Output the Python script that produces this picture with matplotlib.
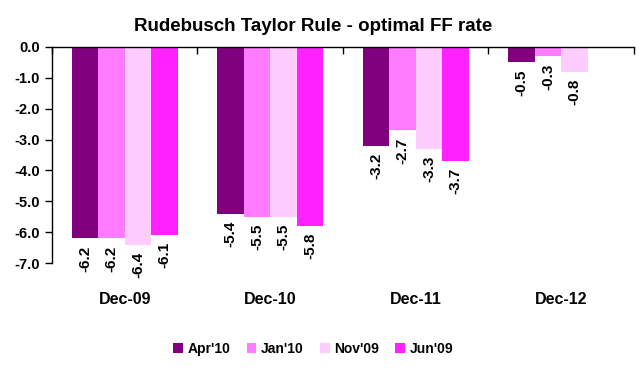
import numpy as np
import matplotlib
matplotlib.use("Agg")
import matplotlib.pyplot as plt
from matplotlib.ticker import FixedLocator

plt.rcParams['font.family'] = ['Liberation Sans', 'DejaVu Sans']
plt.rcParams['font.weight'] = 'bold'

# data
categories = ["Dec-09", "Dec-10", "Dec-11", "Dec-12"]
series_names = ["Apr'10", "Jan'10", "Nov'09", "Jun'09"]
apr10 = [-6.2, -5.4, -3.2, -0.5]
jan10 = [-6.2, -5.5, -2.7, -0.3]
nov09 = [-6.4, -5.5, -3.3, -0.8]
jun09 = [-6.1, -5.8, -3.7, np.nan]
colors = ["#800080", "#FF7BFF", "#FFCCFF", "#FF22FF"]

fig = plt.figure(figsize=(6.39, 3.70), dpi=100)
ax = fig.add_axes([0.0814, 0.289, 0.9106, 0.584])

n = len(series_names)
bar_w = 0.182
centers = np.arange(len(categories)) + 0.5
for i, (name, vals, c) in enumerate(zip(series_names, [apr10, jan10, nov09, jun09], colors)):
    xs = centers + (i - (n - 1) / 2) * bar_w
    ax.bar(xs, vals, width=bar_w, color=c, label=name, zorder=2)
    for x, v in zip(xs, vals):
        if np.isnan(v):
            continue
        ax.annotate(f"{v:.1f}", (x, v), xytext=(0, -5), textcoords="offset points",
                    rotation=90, ha="center", va="top", fontsize=11, fontweight="bold")

ax.set_xlim(0, len(categories))
ax.set_ylim(-7, 0)
ax.set_yticks(np.arange(-7, 1, 1.0))
ax.set_yticklabels([f"{t:.1f}" for t in np.arange(-7, 1, 1.0)], fontsize=10.5, fontweight="bold")
ax.tick_params(axis="y", direction="out", length=5, width=1)

ax.set_xticks(centers)
ax.set_xticklabels(categories, fontsize=11.5, fontweight="bold")
ax.tick_params(axis="x", which="major", length=0, pad=21)
ax.xaxis.set_minor_locator(FixedLocator(np.arange(len(categories) + 1)))
ax.tick_params(axis="x", which="minor", bottom=False, top=True, direction="in", length=5, width=1)

for s in ["right", "bottom"]:
    ax.spines[s].set_visible(False)
ax.spines["top"].set_linewidth(1)
ax.spines["left"].set_linewidth(1)

fig.text(0.49, 0.928, "Rudebusch Taylor Rule - optimal FF rate", ha="center", va="center",
         fontsize=13.5, fontweight="bold")

fig.legend(loc="center", bbox_to_anchor=(0.49, 0.057), ncol=4, frameon=False,
           fontsize=10, handlelength=0.7, handleheight=0.7, handletextpad=0.3,
           columnspacing=1.2)

fig.savefig("out.png", dpi=100)
